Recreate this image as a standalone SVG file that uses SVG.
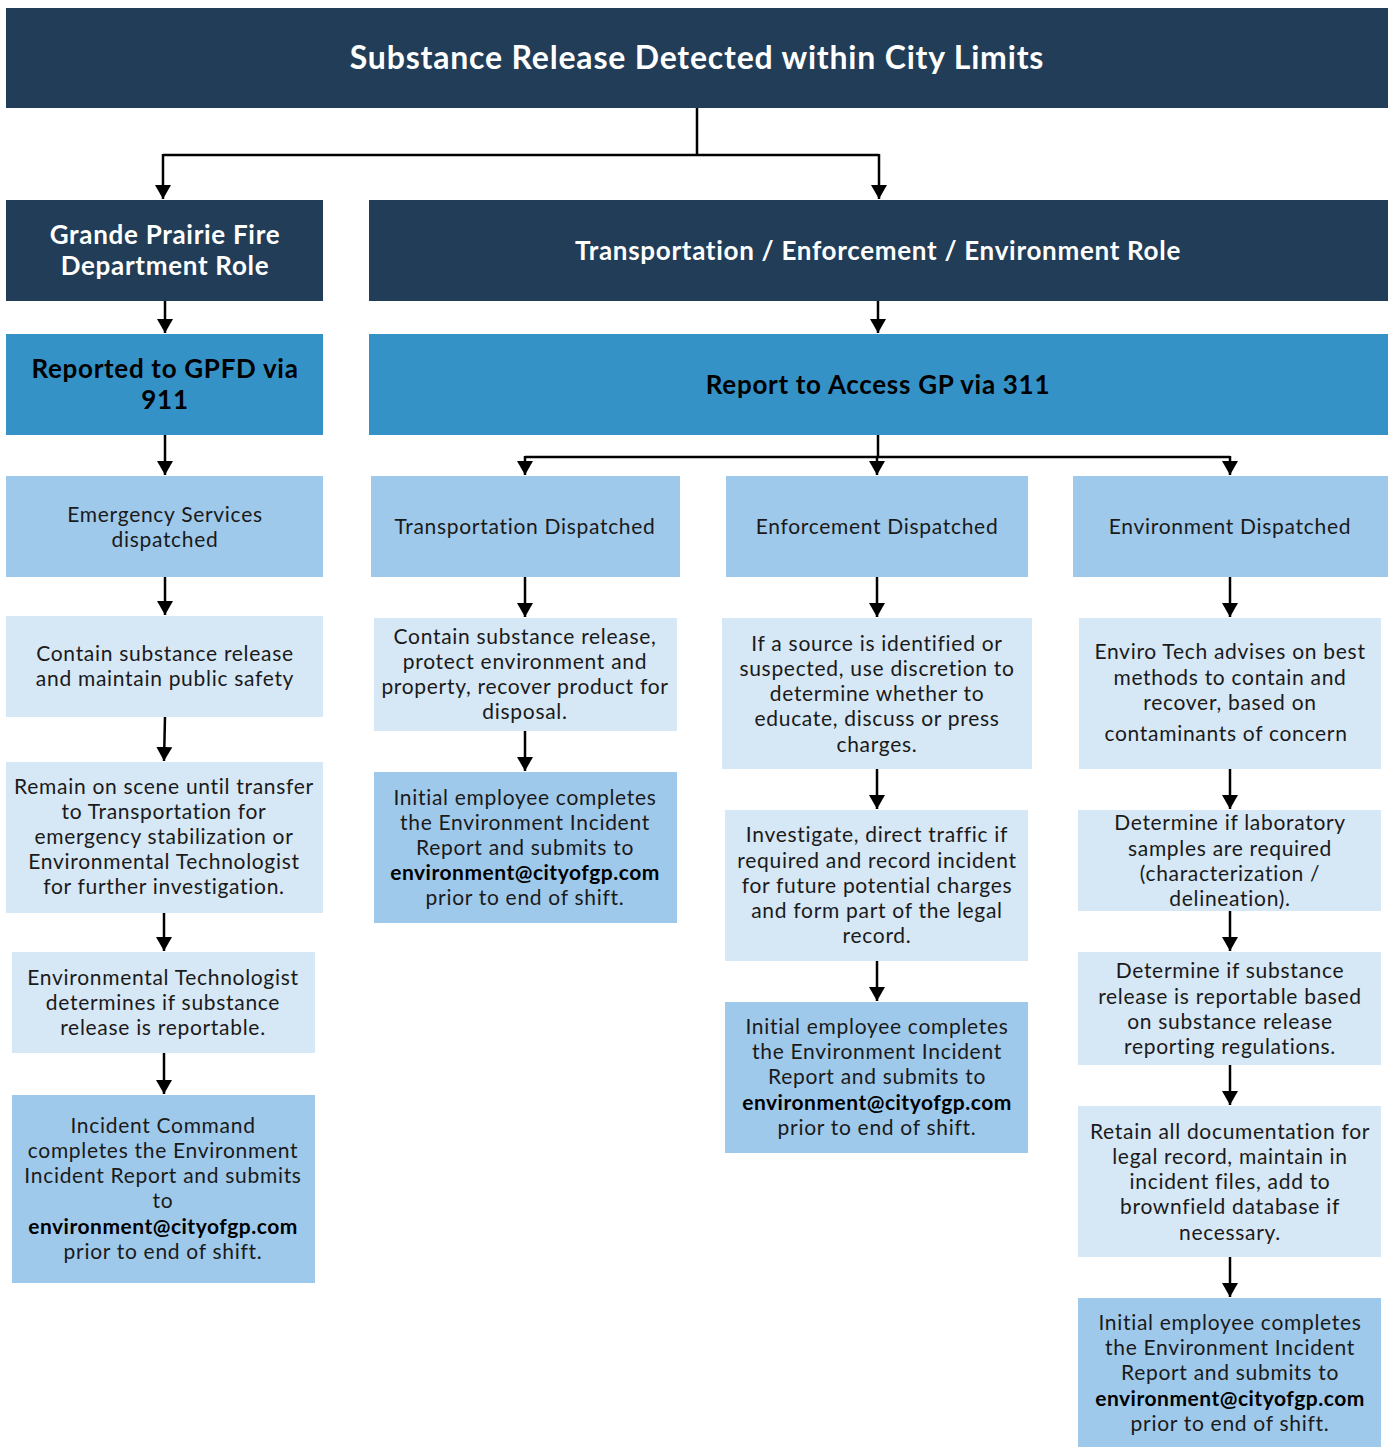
<svg xmlns="http://www.w3.org/2000/svg" width="1388" height="1447" viewBox="0 0 1388 1447">
<defs>
<marker id="ah" viewBox="0 0 14 16" markerWidth="14" markerHeight="16" refX="14" refY="8" orient="auto" markerUnits="userSpaceOnUse">
<path d="M0,0 L14,8 L0,16 z" fill="#000"/>
</marker>
<style>
.dark{fill:#213d57}
.mid{fill:#3592c6}
.lb{fill:#9fc9eb}
.xl{fill:#d6e7f6}
text{font-family:Lato,"Liberation Sans",sans-serif;text-anchor:middle;fill:#1a1a1a;font-size:21px;letter-spacing:0.7px}
.title{font-size:32px;font-weight:bold;fill:#ffffff;letter-spacing:0.8px}
.h{font-size:26px;font-weight:bold;fill:#ffffff;letter-spacing:0.7px}
.hb{font-size:26px;font-weight:bold;fill:#000;letter-spacing:0.7px}
.b{font-weight:bold;fill:#000;letter-spacing:0.5px}
.c line,.c path{stroke:#000;stroke-width:2.5;fill:none}
</style>
</defs>
<rect width="1388" height="1447" fill="#fff"/>

<g class="c" id="connectors">
<path d="M697,108 L697,155 M163,155 L879,155"/>
<line x1="163" y1="154" x2="163" y2="199" marker-end="url(#ah)"/>
<line x1="879" y1="154" x2="879" y2="199" marker-end="url(#ah)"/>
<line x1="165" y1="301" x2="165" y2="333" marker-end="url(#ah)"/>
<line x1="878" y1="301" x2="878" y2="333" marker-end="url(#ah)"/>
<line x1="165" y1="435" x2="165" y2="475" marker-end="url(#ah)"/>
<path d="M878,435 L878,457 M525,457 L1230,457"/>
<line x1="525" y1="456" x2="525" y2="475" marker-end="url(#ah)"/>
<line x1="877" y1="456" x2="877" y2="475" marker-end="url(#ah)"/>
<line x1="1230" y1="456" x2="1230" y2="475" marker-end="url(#ah)"/>
<line x1="165" y1="577" x2="165" y2="615" marker-end="url(#ah)"/>
<line x1="165" y1="717" x2="164" y2="761" marker-end="url(#ah)"/>
<line x1="164" y1="913" x2="164" y2="951" marker-end="url(#ah)"/>
<line x1="164" y1="1053" x2="164" y2="1094" marker-end="url(#ah)"/>
<line x1="525" y1="577" x2="525" y2="617" marker-end="url(#ah)"/>
<line x1="525" y1="731" x2="525" y2="771" marker-end="url(#ah)"/>
<line x1="877" y1="577" x2="877" y2="617" marker-end="url(#ah)"/>
<line x1="877" y1="769" x2="877" y2="809" marker-end="url(#ah)"/>
<line x1="877" y1="961" x2="877" y2="1001" marker-end="url(#ah)"/>
<line x1="1230" y1="577" x2="1230" y2="617" marker-end="url(#ah)"/>
<line x1="1230" y1="769" x2="1230" y2="809" marker-end="url(#ah)"/>
<line x1="1230" y1="911" x2="1230" y2="951" marker-end="url(#ah)"/>
<line x1="1230" y1="1065" x2="1230" y2="1105" marker-end="url(#ah)"/>
<line x1="1230" y1="1257" x2="1230" y2="1297" marker-end="url(#ah)"/>
</g>

<g id="title">
<rect class="dark" x="6" y="8" width="1382" height="100"/>
<text class="title" x="697" y="69">Substance Release Detected within City Limits</text>
</g>

<g id="gpfd-role">
<rect class="dark" x="6" y="200" width="317" height="101"/>
<text class="h" x="165" y="244">Grande Prairie Fire</text>
<text class="h" x="165" y="275">Department Role</text>
</g>

<g id="tee-role">
<rect class="dark" x="369" y="200" width="1019" height="101"/>
<text class="h" x="878" y="260">Transportation / Enforcement / Environment Role</text>
</g>

<g id="reported-gpfd">
<rect class="mid" x="6" y="334" width="317" height="101"/>
<text class="hb" x="165" y="378">Reported to GPFD via</text>
<text class="hb" x="165" y="409">911</text>
</g>

<g id="report-311">
<rect class="mid" x="369" y="334" width="1019" height="101"/>
<text class="hb" x="878" y="394">Report to Access GP via 311</text>
</g>

<g id="es-dispatched">
<rect class="lb" x="6" y="476" width="317" height="101"/>
<text x="165" y="522">Emergency Services</text>
<text x="165" y="547">dispatched</text>
</g>

<g id="fd-contain">
<rect class="xl" x="6" y="616" width="317" height="101"/>
<text x="165" y="661">Contain substance release</text>
<text x="165" y="686">and maintain public safety</text>
</g>

<g id="fd-remain">
<rect class="xl" x="6" y="762" width="317" height="151"/>
<text x="164" y="794">Remain on scene until transfer</text>
<text x="164" y="819">to Transportation for</text>
<text x="164" y="844">emergency stabilization or</text>
<text x="164" y="869">Environmental Technologist</text>
<text x="164" y="894">for further investigation.</text>
</g>

<g id="fd-envtech">
<rect class="xl" x="12" y="952" width="303" height="101"/>
<text x="163" y="985">Environmental Technologist</text>
<text x="163" y="1010">determines if substance</text>
<text x="163" y="1035">release is reportable.</text>
</g>

<g id="fd-report">
<rect class="lb" x="12" y="1095" width="303" height="188"/>
<text x="163" y="1133">Incident Command</text>
<text x="163" y="1158">completes the Environment</text>
<text x="163" y="1183">Incident Report and submits</text>
<text x="163" y="1208">to</text>
<text class="b" x="163" y="1234">environment@cityofgp.com</text>
<text x="163" y="1259">prior to end of shift.</text>
</g>

<g id="tr-dispatched">
<rect class="lb" x="371" y="476" width="309" height="101"/>
<text x="525" y="534">Transportation Dispatched</text>
</g>

<g id="tr-contain">
<rect class="xl" x="374" y="618" width="303" height="113"/>
<text x="525" y="644">Contain substance release,</text>
<text x="525" y="669">protect environment and</text>
<text x="525" y="694">property, recover product for</text>
<text x="525" y="719">disposal.</text>
</g>

<g id="tr-report">
<rect class="lb" x="374" y="772" width="303" height="151"/>
<text x="525" y="805">Initial employee completes</text>
<text x="525" y="830">the Environment Incident</text>
<text x="525" y="855">Report and submits to</text>
<text class="b" x="525" y="880">environment@cityofgp.com</text>
<text x="525" y="905">prior to end of shift.</text>
</g>

<g id="en-dispatched">
<rect class="lb" x="726" y="476" width="302" height="101"/>
<text x="877" y="534">Enforcement Dispatched</text>
</g>

<g id="en-source">
<rect class="xl" x="722" y="618" width="310" height="151"/>
<text x="877" y="651">If a source is identified or</text>
<text x="877" y="676">suspected, use discretion to</text>
<text x="877" y="701">determine whether to</text>
<text x="877" y="726">educate, discuss or press</text>
<text x="877" y="752">charges.</text>
</g>

<g id="en-investigate">
<rect class="xl" x="725" y="810" width="303" height="151"/>
<text x="877" y="842">Investigate, direct traffic if</text>
<text x="877" y="868">required and record incident</text>
<text x="877" y="893">for future potential charges</text>
<text x="877" y="918">and form part of the legal</text>
<text x="877" y="943">record.</text>
</g>

<g id="en-report">
<rect class="lb" x="725" y="1002" width="303" height="151"/>
<text x="877" y="1034">Initial employee completes</text>
<text x="877" y="1059">the Environment Incident</text>
<text x="877" y="1084">Report and submits to</text>
<text class="b" x="877" y="1110">environment@cityofgp.com</text>
<text x="877" y="1135">prior to end of shift.</text>
</g>

<g id="ev-dispatched">
<rect class="lb" x="1073" y="476" width="315" height="101"/>
<text x="1230" y="534">Environment Dispatched</text>
</g>

<g id="ev-advise">
<rect class="xl" x="1079" y="618" width="302" height="151"/>
<text x="1230" y="659">Enviro Tech advises on best</text>
<text x="1230" y="685">methods to contain and</text>
<text x="1230" y="710">recover, based on</text>
<text x="1226" y="741">contaminants of concern</text>
</g>

<g id="ev-lab">
<rect class="xl" x="1078" y="810" width="303" height="101"/>
<text x="1230" y="830">Determine if laboratory</text>
<text x="1230" y="856">samples are required</text>
<text x="1230" y="881">(characterization /</text>
<text x="1230" y="906">delineation).</text>
</g>

<g id="ev-reportable">
<rect class="xl" x="1078" y="952" width="303" height="113"/>
<text x="1230" y="978">Determine if substance</text>
<text x="1230" y="1004">release is reportable based</text>
<text x="1230" y="1029">on substance release</text>
<text x="1230" y="1054">reporting regulations.</text>
</g>

<g id="ev-retain">
<rect class="xl" x="1078" y="1106" width="303" height="151"/>
<text x="1230" y="1139">Retain all documentation for</text>
<text x="1230" y="1164">legal record, maintain in</text>
<text x="1230" y="1189">incident files, add to</text>
<text x="1230" y="1214">brownfield database if</text>
<text x="1230" y="1240">necessary.</text>
</g>

<g id="ev-report">
<rect class="lb" x="1078" y="1298" width="303" height="149"/>
<text x="1230" y="1330">Initial employee completes</text>
<text x="1230" y="1355">the Environment Incident</text>
<text x="1230" y="1380">Report and submits to</text>
<text class="b" x="1230" y="1406">environment@cityofgp.com</text>
<text x="1230" y="1431">prior to end of shift.</text>
</g>
</svg>
